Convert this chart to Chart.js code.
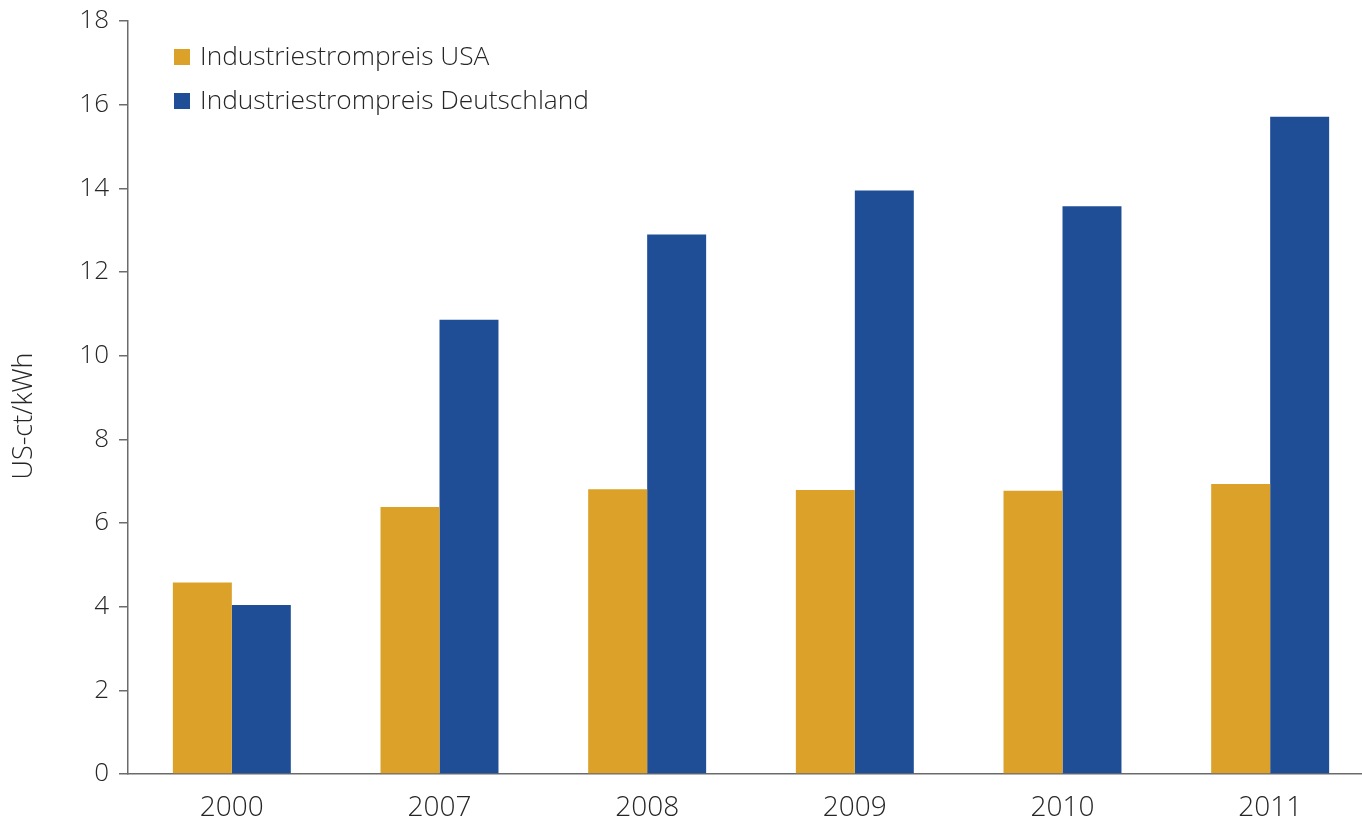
<!DOCTYPE html>
<html>
<head>
<meta charset="utf-8">
<script src="https://cdn.jsdelivr.net/npm/chart.js@4/dist/chart.umd.min.js"></script>
<style>
html,body{margin:0;padding:0;background:#fff;}
#wrap{width:1362px;height:818px;position:relative;overflow:hidden;}
</style>
</head>
<body>
<div id="wrap"><canvas id="c" width="1374" height="818"></canvas></div>
<script>
const categories = ['2000','2007','2008','2009','2010','2011'];
const usaValues = [4.58, 6.38, 6.81, 6.79, 6.77, 6.93];
const deValues = [4.04, 10.86, 12.9, 13.95, 13.57, 15.71];
const seriesLabels = ['Industriestrompreis USA','Industriestrompreis Deutschland'];
const yTitle = 'US-ct/kWh';

const FONT = '"Open Sans", Lato, sans-serif';
const TXT = '#262626';
const AX = '#6b6b6b';
const colors = ['#DBA128','#1F4E96'];

const legendPlugin = {
  id:'innerLegend',
  afterDraw(chart){
    const ctx = chart.ctx;
    ctx.save();
    ctx.font = '300 26.3px ' + FONT;
    ctx.textBaseline = 'middle';
    chart.data.datasets.forEach((ds,i)=>{
      const cy = 57 + i*44;
      ctx.fillStyle = ds.backgroundColor;
      ctx.fillRect(174, cy-8, 16, 16);
      ctx.fillStyle = TXT;
      ctx.fillText(ds.label, 200, cy+1);
    });
    ctx.restore();
  }
};

const yTitlePlugin = {
  id:'yTitle',
  afterDraw(chart){
    const ctx = chart.ctx;
    ctx.save();
    ctx.font = '300 27px ' + FONT;
    ctx.fillStyle = TXT;
    ctx.textAlign = 'center';
    ctx.textBaseline = 'middle';
    ctx.translate(24, 416);
    ctx.rotate(-Math.PI/2);
    ctx.fillText(yTitle, 0, 0);
    ctx.restore();
  }
};

new Chart(document.getElementById('c'), {
  type:'bar',
  data:{
    labels: categories,
    datasets:[
      {label: seriesLabels[0], data: usaValues, backgroundColor: colors[0]},
      {label: seriesLabels[1], data: deValues, backgroundColor: colors[1]}
    ]
  },
  options:{
    responsive:false,
    animation:false,
    devicePixelRatio:1,
    layout:{padding:{top:0,right:0,bottom:0,left:0}},
    datasets:{bar:{categoryPercentage:0.568, barPercentage:1.0}},
    plugins:{legend:{display:false}, tooltip:{enabled:false}},
    scales:{
      x:{
        grid:{display:false},
        border:{display:true,color:AX,width:1.5},
        ticks:{color:TXT,font:{family:FONT,size:28,weight:300},padding:9},
        afterFit(s){ s.height = 44; }
      },
      y:{
        min:0,max:18,
        ticks:{stepSize:2,color:TXT,font:{family:FONT,size:26,weight:300,lineHeight:0.85},padding:10},
        grid:{display:true,drawOnChartArea:false,drawTicks:true,tickLength:9,color:AX,lineWidth:1.5},
        border:{display:true,color:AX,width:1.5},
        title:{display:false},
        afterFit(s){ s.width = 128; }
      }
    }
  },
  plugins:[legendPlugin, yTitlePlugin]
});
</script>
</body>
</html>
